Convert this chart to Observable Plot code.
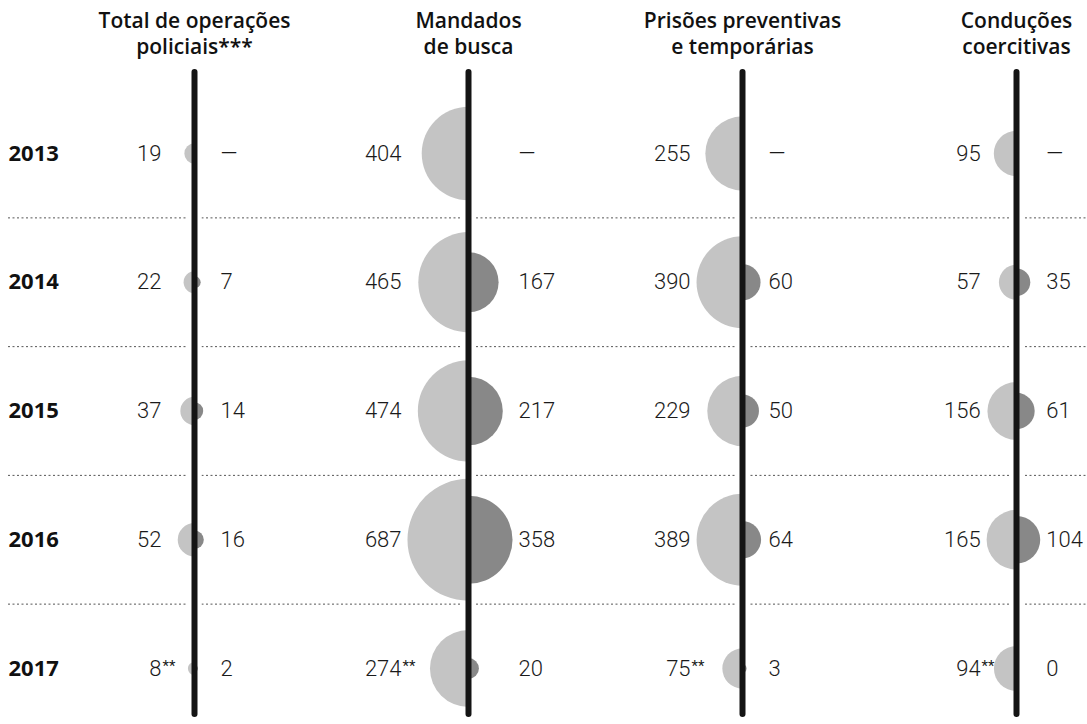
<!DOCTYPE html>
<html><head><meta charset="utf-8">
<script src="https://cdn.jsdelivr.net/npm/d3@7"></script>
<script src="https://cdn.jsdelivr.net/npm/@observablehq/plot@0.6"></script>
<style>body{margin:0;background:#fff}</style>
</head><body><div id="chart"></div>
<script>
const years = [2013, 2014, 2015, 2016, 2017];
const columns = ["Total de operações\npoliciais***", "Mandados\nde busca", "Prisões preventivas\ne temporárias", "Conduções\ncoercitivas"];
const totalLeft = [19, 22, 37, 52, 8];
const totalRight = [null, 7, 14, 16, 2];
const mandadosLeft = [404, 465, 474, 687, 274];
const mandadosRight = [null, 167, 217, 358, 20];
const prisoesLeft = [255, 390, 229, 389, 75];
const prisoesRight = [null, 60, 50, 64, 3];
const conducoesLeft = [95, 57, 156, 165, 94];
const conducoesRight = [null, 35, 61, 104, 0];
const partialYear = 2017;
const partialMark = "**";
const missingMark = "—";

const leftSeries = [totalLeft, mandadosLeft, prisoesLeft, conducoesLeft];
const rightSeries = [totalRight, mandadosRight, prisoesRight, conducoesRight];

const rows = [];
columns.forEach((col, ci) => {
  years.forEach((year, yi) => {
    rows.push({col, year, side: "left", value: leftSeries[ci][yi]});
    rows.push({col, year, side: "right", value: rightSeries[ci][yi]});
  });
});
const leftRows = rows.filter(d => d.side === "left");
const rightRows = rows.filter(d => d.side === "right");

const maxValue = d3.max(rows, d => d.value);
const rMax = 61;
const rScale = d3.scaleSqrt().domain([0, maxValue]).range([0, rMax]);

const halfLeft = {draw(ctx, size) { const r = Math.sqrt(size / Math.PI); ctx.moveTo(0, -r); ctx.arc(0, 0, r, -Math.PI / 2, Math.PI / 2, true); ctx.closePath(); }};
const halfRight = {draw(ctx, size) { const r = Math.sqrt(size / Math.PI); ctx.moveTo(0, -r); ctx.arc(0, 0, r, -Math.PI / 2, Math.PI / 2, false); ctx.closePath(); }};

const numFont = {fontFamily: "Roboto", fontWeight: 300, fontSize: 22, fill: "#1a1a1a"};

const labelMarks = [];
columns.forEach((col, ci) => {
  const lOff = Math.max(rScale(d3.max(leftSeries[ci])) + 6, 33);
  const rOff = Math.max(rScale(d3.max(rightSeries[ci])) + 6, 26);
  const L = leftRows.filter(d => d.col === col);
  const R = rightRows.filter(d => d.col === col);
  labelMarks.push(Plot.text(L, {x: "col", y: "year", text: d => String(d.value), textAnchor: "end", dx: -lOff, ...numFont}));
  labelMarks.push(Plot.text(L.filter(d => d.year === partialYear), {x: "col", y: "year", text: () => partialMark, textAnchor: "start", dx: -lOff + 1, dy: -2, ...numFont, fontSize: 15, fontWeight: 400}));
  labelMarks.push(Plot.text(R, {x: "col", y: "year", text: d => d.value == null ? missingMark : String(d.value), textAnchor: "start", dx: rOff, ...numFont}));
});

const separators = years.slice(1).map(y => y - 0.5);

const chart = Plot.plot({
  width: 1087,
  height: 724,
  marginTop: 72,
  marginBottom: 10,
  marginLeft: 8,
  marginRight: 0,
  style: {fontFamily: "Roboto", background: "#fff"},
  x: {type: "point", domain: columns, padding: 0, insetLeft: 185, insetRight: 70, axis: null},
  y: {domain: [years[0], years[years.length - 1]], range: [153, 668], axis: null},
  r: {type: "sqrt", domain: [0, maxValue], range: [0, rMax]},
  marks: [
    Plot.ruleY(separators, {y: d => d, stroke: "#555", strokeWidth: 1, strokeDasharray: "2,2.5"}),
    Plot.ruleX(columns, {x: d => d, stroke: "#fff", strokeWidth: 14}),
    Plot.dot(leftRows.filter(d => d.value > 0), {x: "col", y: "year", r: "value", symbol: halfLeft, fill: "#c4c4c4", stroke: "none"}),
    Plot.dot(rightRows.filter(d => d.value > 0), {x: "col", y: "year", r: "value", symbol: halfRight, fill: "#888888", stroke: "none"}),
    Plot.ruleX(columns, {x: d => d, stroke: "#141414", strokeWidth: 6, strokeLinecap: "round"}),
    Plot.text(columns, {x: d => d, text: d => d, frameAnchor: "top", lineAnchor: "bottom", dy: -19, fontFamily: "Open Sans", fontWeight: 600, fontSize: 21, lineHeight: 1.2, fill: "#111"}),
    Plot.text(years, {y: d => d, text: d => String(d), frameAnchor: "left", textAnchor: "start", fontFamily: "Open Sans", fontWeight: 700, fontSize: 22, fill: "#111"}),
    ...labelMarks
  ]
});
document.getElementById("chart").append(chart);
</script></body></html>
